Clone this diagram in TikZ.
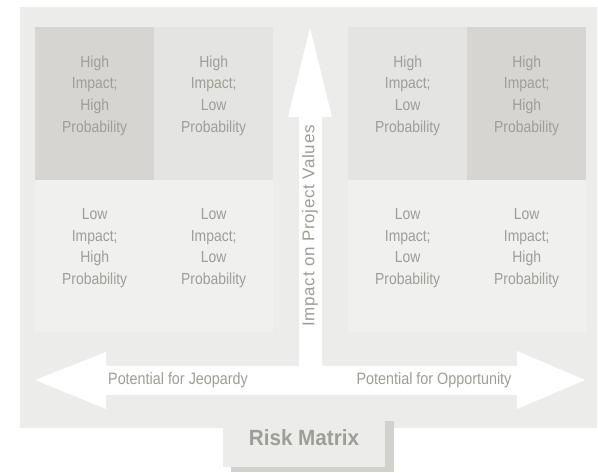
\documentclass[tikz,border=0pt]{standalone}
\usepackage{fontspec}
\setmainfont{Liberation Sans}
\newfontfamily\cellfont[FakeStretch=0.87]{Liberation Sans}
\newfontfamily\axisfont[FakeStretch=0.87]{Liberation Sans}
\newfontfamily\vaxisfont[LetterSpace=4]{Liberation Sans}
\newfontfamily\titlefont[FakeStretch=0.94]{Liberation Sans}
\usetikzlibrary{positioning,calc}
\definecolor{panelgray}{HTML}{ECECEA}
\definecolor{darkcell}{HTML}{D6D5D1}
\definecolor{midcell}{HTML}{E4E4E2}
\definecolor{lightcell}{HTML}{F0F0EF}
\definecolor{inkgray}{HTML}{9E9D96}
\definecolor{shadowgray}{HTML}{D2D1CD}
\tikzset{
  cell/.style={minimum width=119pt,minimum height=153pt,inner sep=0pt,anchor=north west},
  hhcell/.style={cell,fill=darkcell},
  hlcell/.style={cell,fill=midcell},
  lowcell/.style={cell,fill=lightcell,minimum height=152pt},
  celltext/.style={align=center,text=inkgray,inner sep=0pt,font=\cellfont\fontsize{16}{21.7}\selectfont},
  axistext/.style={text=inkgray,inner sep=0pt,font=\axisfont\fontsize{16.5}{18}\selectfont},
  bigarrow/.style={fill=white,draw=none}
}

\begin{document}
\begin{tikzpicture}[x=1pt,y=-1pt]
\useasboundingbox (0,0) rectangle (598,473);
\fill[panelgray] (20,7) rectangle (597,428);
% left matrix
\node[hhcell] (l11) at (35,27) {};
\node[hlcell] (l12) at (154,27) {};
\node[lowcell] (l21) at (35,180) {};
\node[lowcell] (l22) at (154,180) {};
% right matrix
\node[hlcell] (r11) at (348,27) {};
\node[hhcell] (r12) at (467,27) {};
\node[lowcell] (r21) at (348,180) {};
\node[lowcell] (r22) at (467,180) {};
% axes
\fill[bigarrow] (35,380) -- (106,352) -- (106,366) -- (299,366) -- (299,117) -- (288,117)
  -- (310,28) -- (332,117) -- (322,117) -- (322,366) -- (517,366) -- (517,351)
  -- (585,380) -- (517,409) -- (517,395) -- (106,395) -- (106,409) -- cycle;
\node[celltext] at ([yshift=8]l11.center) {High\\Impact;\\High\\Probability};
\node[celltext] at ([yshift=8]l12.center) {High\\Impact;\\Low\\Probability};
\node[celltext] at ([yshift=8]l21.center) {Low\\Impact;\\High\\Probability};
\node[celltext] at ([yshift=8]l22.center) {Low\\Impact;\\Low\\Probability};
\node[celltext] at ([yshift=8]r11.center) {High\\Impact;\\Low\\Probability};
\node[celltext] at ([yshift=8]r12.center) {High\\Impact;\\High\\Probability};
\node[celltext] at ([yshift=8]r21.center) {Low\\Impact;\\Low\\Probability};
\node[celltext] at ([yshift=8]r22.center) {Low\\Impact;\\High\\Probability};
\node[axistext] (jeo) at (178,380) {Potential for Jeopardy};
\node[axistext] (opp) at (434,380) {Potential for Opportunity};
\node[axistext,font=\vaxisfont\fontsize{17}{18}\selectfont,rotate=90] (imp) at (310,226) {Impact on Project Values};
% title
\fill[shadowgray] (231,421) rectangle (394,472);
\node[fill=panelgray,minimum width=162pt,minimum height=58pt,inner sep=0pt,
  text=inkgray,font=\titlefont\bfseries\fontsize{22}{24}\selectfont] (title) at (304,438) {Risk Matrix};
\end{tikzpicture}
\end{document}
